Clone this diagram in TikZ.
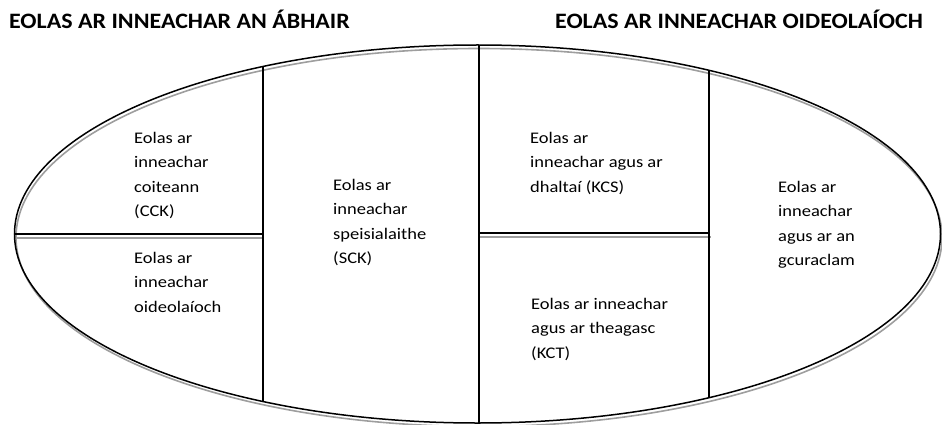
\documentclass[tikz,border=0pt]{standalone}
\usepackage{fontspec}
\setmainfont{Carlito}
\newfontfamily\bodyfont{Carlito}[FakeStretch=1.14]
\newfontfamily\headfont{Carlito}[FakeStretch=1.09]
\begin{document}
\begin{tikzpicture}[x=1pt,y=-1pt,
  outline/.style={line width=1.5pt,draw=black},
  shade line/.style={line width=1.6pt,draw=black!38},
  heading/.style={anchor=base west,inner sep=0pt,font=\headfont\bfseries\fontsize{22}{26}\selectfont},
  label/.style={anchor=north west,inner sep=0pt,align=left,font=\bodyfont\fontsize{16.2}{24.4}\selectfont}]
\useasboundingbox (0,0) rectangle (942,425);

% headings
\node[heading] (hsubj) at (9,29) {EOLAS AR INNEACHAR AN ÁBHAIR};
\node[heading] (hped) at (555,29) {EOLAS AR INNEACHAR OIDEOLAÍOCH};

% soft grey shadows under the outline
\draw[shade line] (479,237.5) ellipse [x radius=463, y radius=189];
\draw[shade line] (15,238) -- (263,238);
\draw[shade line] (479,237) -- (710.5,237);

% main ellipse and its dividers
\draw[outline] (477.5,234) ellipse [x radius=463, y radius=189];
\coordinate (v1t) at (263,66.5);  \coordinate (v1b) at (263,401.5);
\coordinate (v2t) at (479,45);    \coordinate (v2b) at (479,423);
\coordinate (v3t) at (709,70.3);  \coordinate (v3b) at (709,397.7);
\coordinate (h1l) at (14.5,234);  \coordinate (h1r) at (263,234);
\coordinate (h2l) at (479,233);   \coordinate (h2r) at (709,233);
\draw[outline] (v1t) -- (v1b);
\draw[outline] (v2t) -- (v2b);
\draw[outline] (v3t) -- (v3b);
\draw[outline] (h1l) -- (h1r);
\draw[outline] (h2l) -- (h2r);

% cell texts
\node[label] (cck) at (134,132) {Eolas ar\\inneachar\\coiteann\\(CCK)};
\node[label] (pck) at (134,252) {Eolas ar\\inneachar\\oideolaíoch};
\node[label] (sck) at (333,179) {Eolas ar\\inneachar\\speisialaithe\\(SCK)};
\node[label] (kcs) at (530,132) {Eolas ar\\inneachar agus ar\\dhaltaí (KCS)};
\node[label] (kct) at (531,298) {Eolas ar inneachar\\agus ar theagasc\\(KCT)};
\node[label] (kcc) at (778,181) {Eolas ar\\inneachar\\agus ar an\\gcuraclam};
\end{tikzpicture}
\end{document}
